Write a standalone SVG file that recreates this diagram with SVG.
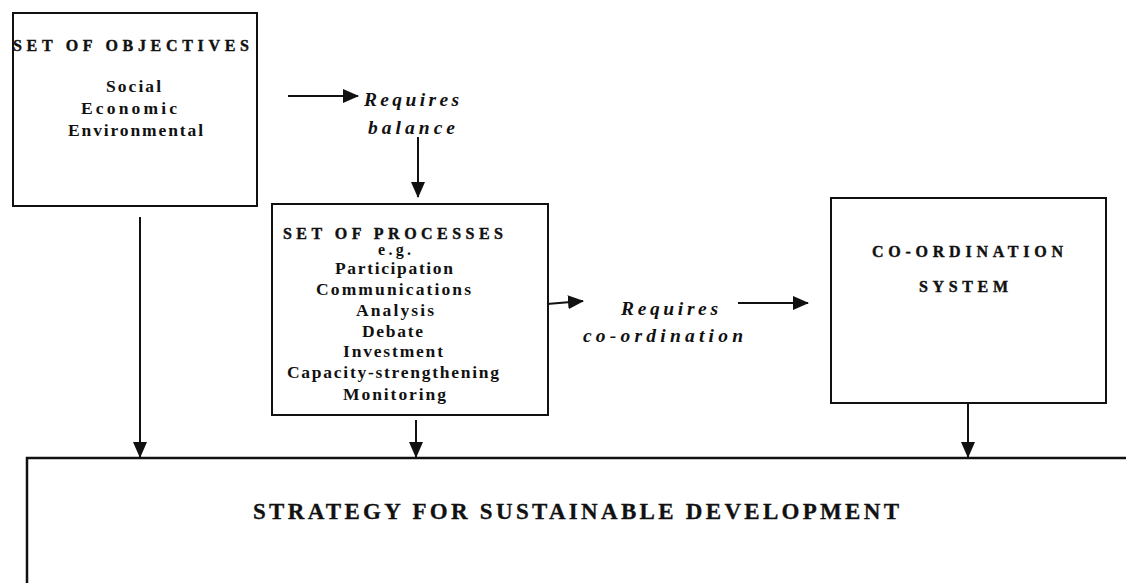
<svg xmlns="http://www.w3.org/2000/svg" width="1126" height="583" viewBox="0 0 1126 583">
<style>
.box{fill:#fff;stroke:#111;stroke-width:2}
.t{font-family:"Liberation Serif","Times New Roman",serif;font-weight:bold;fill:#111}
.h{font-size:16px;stroke:#111;stroke-width:0.4}
.i{font-size:17.5px}
.s{font-size:16px}
.it{font-size:19.5px;font-style:italic}
.big{font-size:23px;stroke:#111;stroke-width:0.3}
.c{fill:none;stroke:#111;stroke-width:2}
</style>
<defs>
<marker id="ah" markerUnits="userSpaceOnUse" markerWidth="16" markerHeight="14" refX="15" refY="7" orient="auto">
<path d="M0,0 L16,7 L0,14 z" fill="#111"/>
</marker>
</defs>
<rect width="1126" height="583" fill="#fff"/>
<g id="objectives">
<rect class="box" x="13" y="13" width="244" height="193"/>
<text class="t h" x="13" y="51" textLength="236" lengthAdjust="spacing">SET OF OBJECTIVES</text>
<text class="t i" x="106" y="92" textLength="55" lengthAdjust="spacing">Social</text>
<text class="t i" x="81" y="114" textLength="96" lengthAdjust="spacing">Economic</text>
<text class="t i" x="68" y="136" textLength="135" lengthAdjust="spacing">Environmental</text>
</g>
<g id="requires-balance">
<text class="t it" x="364" y="106" textLength="95" lengthAdjust="spacing">Requires</text>
<text class="t it" x="368" y="134" textLength="87" lengthAdjust="spacing">balance</text>
</g>
<g id="processes">
<rect class="box" x="272" y="204" width="276" height="211"/>
<text class="t h" x="283" y="239" textLength="220" lengthAdjust="spacing">SET OF PROCESSES</text>
<text class="t s" x="378" y="255" textLength="33" lengthAdjust="spacing">e.g.</text>
<text class="t i" x="335" y="274" textLength="118" lengthAdjust="spacing">Participation</text>
<text class="t i" x="316" y="295" textLength="155" lengthAdjust="spacing">Communications</text>
<text class="t i" x="356" y="316" textLength="78" lengthAdjust="spacing">Analysis</text>
<text class="t i" x="362" y="337" textLength="61" lengthAdjust="spacing">Debate</text>
<text class="t i" x="343" y="357" textLength="100" lengthAdjust="spacing">Investment</text>
<text class="t i" x="287" y="378" textLength="212" lengthAdjust="spacing">Capacity-strengthening</text>
<text class="t i" x="343" y="400" textLength="103" lengthAdjust="spacing">Monitoring</text>
</g>
<g id="requires-coordination">
<text class="t it" x="621" y="315" textLength="97" lengthAdjust="spacing">Requires</text>
<text class="t it" x="583" y="342" textLength="160" lengthAdjust="spacing">co-ordination</text>
</g>
<g id="coordination-system">
<rect class="box" x="831" y="198" width="275" height="205"/>
<text class="t h" x="872" y="257" textLength="191" lengthAdjust="spacing">CO-ORDINATION</text>
<text class="t h" x="919" y="292" textLength="89" lengthAdjust="spacing">SYSTEM</text>
</g>
<g id="strategy">
<path d="M27,590 V458 H1130" fill="#fff" stroke="#111" stroke-width="2.5"/>
<text class="t big" x="253" y="519" textLength="646" lengthAdjust="spacing">STRATEGY FOR SUSTAINABLE DEVELOPMENT</text>
</g>
<g id="connectors">
<line class="c" x1="288" y1="96" x2="358" y2="96" marker-end="url(#ah)"/>
<line class="c" x1="418" y1="137" x2="418" y2="197" marker-end="url(#ah)"/>
<line class="c" x1="140" y1="217" x2="140" y2="457" marker-end="url(#ah)"/>
<line class="c" x1="416" y1="420" x2="416" y2="457" marker-end="url(#ah)"/>
<line class="c" x1="547" y1="304" x2="583" y2="301" marker-end="url(#ah)"/>
<line class="c" x1="738" y1="303" x2="808" y2="303" marker-end="url(#ah)"/>
<line class="c" x1="968" y1="403" x2="968" y2="457" marker-end="url(#ah)"/>
</g>
</svg>
